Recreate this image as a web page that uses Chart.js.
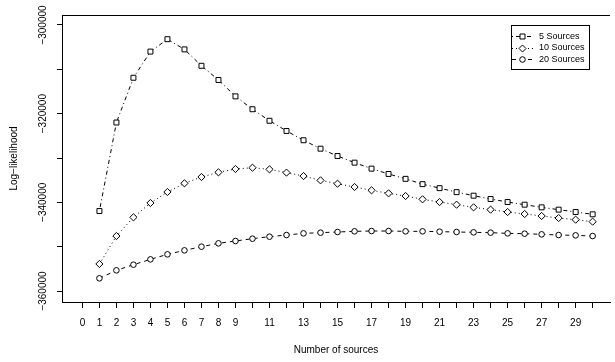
<!DOCTYPE html>
<html lang="en">
<head>
    <meta charset="UTF-8">
    <title>Log-likelihood by number of sources</title>
    <script src="https://cdn.jsdelivr.net/npm/chart.js"></script>
    <style>
        html, body { margin: 0; padding: 0; background: #fff; }
        #wrap { width: 615px; height: 362px; }
    </style>
</head>
<body>
    <div id="wrap"><canvas id="llChart" width="615" height="362"></canvas></div>

    <script>
        // values
        const sourceCounts = [1, 2, 3, 4, 5, 6, 7, 8, 9, 10, 11, 12, 13, 14, 15, 16, 17, 18, 19, 20, 21, 22, 23, 24, 25, 26, 27, 28, 29, 30];
        const fiveSources = [-341960, -322000, -311900, -306000, -303200, -305500, -309200, -312400, -316100, -319000,
            -321600, -323900, -326000, -327900, -329550, -331050, -332400, -333600, -334700, -335900,
            -336800, -337700, -338500, -339250, -339930, -340530, -341130, -341650, -342180, -342700];
        const tenSources = [-353900, -347600, -343380, -340150, -337670, -335710, -334290, -333230, -332480, -332190,
            -332560, -333300, -334070, -335040, -335800, -336540, -337290, -337970, -338570, -339320,
            -339930, -340530, -341130, -341650, -342180, -342630, -343080, -343540, -343910, -344360];
        const twentySources = [-357140, -355340, -354070, -352860, -351730, -350830, -350000, -349250, -348720, -348200,
            -347750, -347370, -347000, -346840, -346690, -346540, -346470, -346470, -346540, -346540,
            -346620, -346690, -346770, -346840, -347000, -347070, -347220, -347370, -347450, -347600];
        const seriesNames = ['5 Sources', '10 Sources', '20 Sources'];

        const xTickValues = [0, 1, 2, 3, 4, 5, 6, 7, 8, 9, 10, 11, 12, 13, 14, 15, 16, 17, 18, 19, 20, 21, 22, 23, 24, 25, 26, 27, 28, 29, 30];
        const xTickLabels = ['0', '1', '2', '3', '4', '5', '6', '7', '8', '9', '', '11', '', '13', '', '15', '', '17', '', '19', '', '21', '', '23', '', '25', '', '27', '', '29', ''];
        const yTickValues = [-360000, -350000, -340000, -330000, -320000, -310000, -300000];
        const yLabelValues = [-360000, -340000, -320000, -300000];
        const yLabelTexts = ['\u2212360000', '\u2212340000', '\u2212320000', '\u2212300000'];

        const toPoints = vals => vals.map((v, i) => ({ x: sourceCounts[i], y: v }));

        // top edge of the plot box
        const boxTop = {
            id: 'boxTop',
            afterDraw(chart) {
                const { ctx, chartArea } = chart;
                ctx.save();
                ctx.strokeStyle = '#000';
                ctx.lineWidth = 1;
                ctx.beginPath();
                ctx.moveTo(chartArea.left, Math.round(chartArea.top) + 0.5);
                ctx.lineTo(chartArea.right, Math.round(chartArea.top) + 0.5);
                ctx.stroke();
                ctx.restore();
            }
        };

        // y tick labels, rotated like base R
        const yLabels = {
            id: 'yLabels',
            afterDraw(chart) {
                const { ctx } = chart;
                const y = chart.scales.y;
                ctx.save();
                ctx.fillStyle = '#000';
                ctx.font = '10px "Liberation Sans", Arial, sans-serif';
                ctx.textAlign = 'center';
                ctx.textBaseline = 'middle';
                yLabelValues.forEach((v, i) => {
                    ctx.save();
                    ctx.translate(43, y.getPixelForValue(v));
                    ctx.rotate(-Math.PI / 2);
                    ctx.fillText(yLabelTexts[i], 0, 0);
                    ctx.restore();
                });
                ctx.restore();
            }
        };

        function drawMark(ctx, style, x, y) {
            ctx.beginPath();
            if (style === 'rect') {
                ctx.rect(x - 2.5, y - 2.5, 5, 5);
            } else if (style === 'rectRot') {
                ctx.moveTo(x, y - 3.5); ctx.lineTo(x + 3.5, y); ctx.lineTo(x, y + 3.5); ctx.lineTo(x - 3.5, y); ctx.closePath();
            } else {
                ctx.arc(x, y, 2.8, 0, Math.PI * 2);
            }
            ctx.fillStyle = '#fff';
            ctx.fill();
            ctx.stroke();
        }

        // boxed legend in the top right corner
        const boxLegend = {
            id: 'boxLegend',
            afterDraw(chart) {
                const { ctx } = chart;
                ctx.save();
                ctx.strokeStyle = '#000';
                ctx.lineWidth = 1;
                ctx.strokeRect(511.5, 25.5, 78, 44);
                ctx.font = '9px "Liberation Sans", Arial, sans-serif';
                ctx.textBaseline = 'middle';
                const rows = [36, 47.5, 59];
                chart.data.datasets.forEach((ds, i) => {
                    const ry = Math.round(rows[i]) + 0.5;
                    ctx.setLineDash(ds.borderDash);
                    ctx.beginPath();
                    ctx.moveTo(512, ry);
                    ctx.lineTo(533, ry);
                    ctx.stroke();
                    ctx.setLineDash([]);
                    drawMark(ctx, ds.pointStyle, 522.5, ry);
                    ctx.fillStyle = '#000';
                    ctx.fillText(ds.label, 539, rows[i] + 0.5);
                });
                ctx.restore();
            }
        };

        const common = {
            fill: false,
            borderColor: '#000',
            borderWidth: 1,
            pointBackgroundColor: '#fff',
            pointBorderColor: '#000',
            pointBorderWidth: 1,
            tension: 0
        };

        const ctx = document.getElementById('llChart').getContext('2d');
        new Chart(ctx, {
            type: 'line',
            data: {
                datasets: [
                    Object.assign({ label: seriesNames[0], data: toPoints(fiveSources), borderDash: [1, 3, 4, 3], pointStyle: 'rect', pointRadius: 3.5 }, common),
                    Object.assign({ label: seriesNames[1], data: toPoints(tenSources), borderDash: [1, 3], pointStyle: 'rectRot', pointRadius: 3.6 }, common),
                    Object.assign({ label: seriesNames[2], data: toPoints(twentySources), borderDash: [4, 4], pointStyle: 'circle', pointRadius: 2.8 }, common)
                ]
            },
            options: {
                responsive: false,
                animation: false,
                devicePixelRatio: 1,
                layout: { padding: { top: 15, right: 0, bottom: 0, left: 0 } },
                plugins: {
                    legend: { display: false },
                    tooltip: { enabled: false }
                },
                scales: {
                    x: {
                        type: 'linear',
                        min: -1.2,
                        max: 31.02,
                        afterBuildTicks: s => { s.ticks = xTickValues.map(v => ({ value: v })); },
                        afterFit: s => { s.height = 60; },
                        grid: { display: true, drawOnChartArea: false, drawTicks: true, tickLength: 6, color: '#000' },
                        border: { display: true, color: '#000', width: 1 },
                        ticks: {
                            autoSkip: false,
                            maxRotation: 0,
                            padding: 9,
                            color: '#000',
                            font: { family: '"Liberation Sans", Arial, sans-serif', size: 10 },
                            callback: (value, index) => xTickLabels[index]
                        },
                        title: {
                            display: true,
                            text: 'Number of sources',
                            color: '#000',
                            font: { family: '"Liberation Sans", Arial, sans-serif', size: 10 },
                            padding: { top: 0, bottom: 6 }
                        }
                    },
                    y: {
                        min: -362480,
                        max: -297745,
                        afterBuildTicks: s => { s.ticks = yTickValues.map(v => ({ value: v })); },
                        afterFit: s => { s.width = 62; },
                        grid: { display: true, drawOnChartArea: false, drawTicks: true, tickLength: 5, color: '#000' },
                        border: { display: true, color: '#000', width: 1 },
                        ticks: { display: false },
                        title: {
                            display: true,
                            text: 'Log\u2212likelihood',
                            color: '#000',
                            font: { family: '"Liberation Sans", Arial, sans-serif', size: 10 },
                            padding: { top: 8.5, bottom: 0 }
                        }
                    }
                }
            },
            plugins: [boxTop, yLabels, boxLegend]
        });
    </script>
</body>
</html>
